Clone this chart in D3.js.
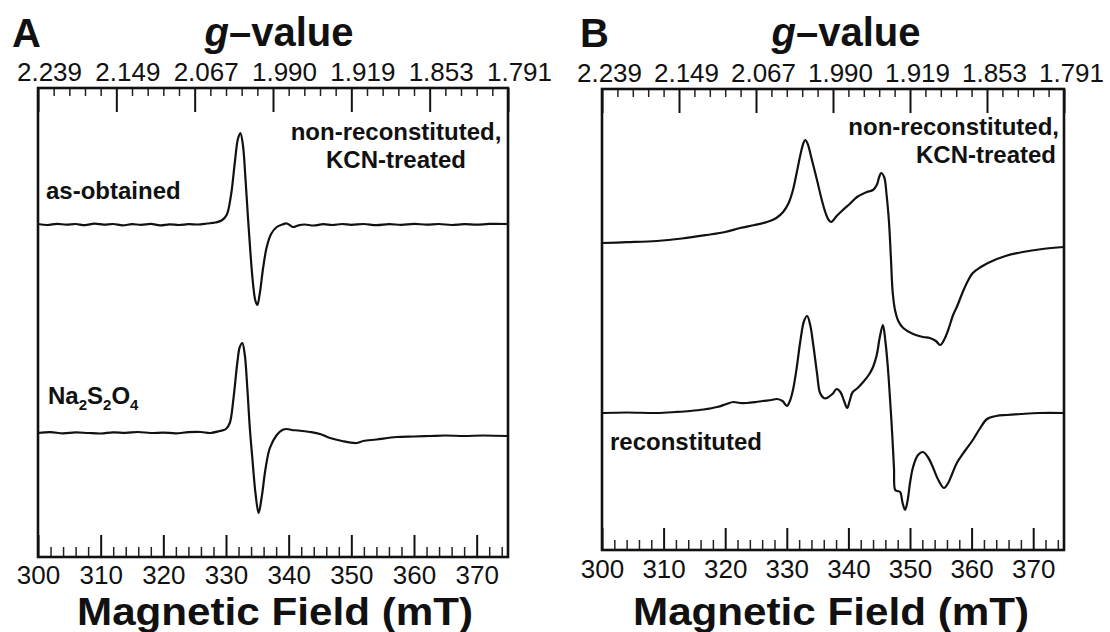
<!DOCTYPE html>
<html>
<head>
<meta charset="utf-8">
<script src="https://cdn.jsdelivr.net/npm/d3@7"></script>
<style>
  html, body { margin: 0; padding: 0; background: #fff; }
  svg { display: block; font-family: "Liberation Sans", Arial, Helvetica, sans-serif; }
</style>
</head>
<body>
<svg id="chart" width="1110" height="632"></svg>
<script>
// ---------------- data ----------------
const fieldDomain = [300, 375];                       // mT
const fieldTicks = [300, 310, 320, 330, 340, 350, 360, 370];
const fieldMinorTicks = d3.range(300, 375, 2).filter(v => v % 10 !== 0);
const gTickFields = [300, 312.5, 325, 337.5, 350, 362.5, 375];
const gTickLabels = ["2.239", "2.149", "2.067", "1.990", "1.919", "1.853", "1.791"];
const gMinorTicks = d3.range(300, 375, 2.5).filter(v => v % 12.5 !== 0);

// Panel A: as-obtained (field mT, derivative signal a.u.)
const asObtained = [
  [300,1],[301.5,0],[303,1.2],[304.5,0.3],[306,1],[307.5,-0.2],[309,1.4],[310.5,0.4],
  [312,1],[313.5,-0.3],[315,0.8],[316.5,0.2],[318,1.2],[319.5,-0.4],[321,0.6],[322.5,0],
  [324,0.8],[325.5,0.5],[327,1.5],[328.3,2.5],[329.3,4.5],[330.1,10],[330.8,30],[331.4,62],
  [331.9,86],[332.3,92],[332.7,80],[333.1,47],[333.5,8],[333.9,-28],[334.3,-58],[334.7,-76],
  [335.0,-80],[335.4,-68],[335.9,-44],[336.5,-22],[337.2,-9],[338.1,-2],[339.0,0.5],
  [339.7,1.5],[340.7,-2],[341.5,-0.5],[342.5,0.5],[344,-0.5],[345.5,0.8],[347,0],[348.5,1],
  [350,0.2],[352,1],[354,-0.2],[356,0.8],[358,0.2],[360,1.2],[362,0.3],[364,1],[366,0],
  [368,0.8],[370,0.3],[372,1.1],[375,1]
];
// Panel A: Na2S2O4-reduced
const dithionite = [
  [300,0],[302,0.8],[304,-0.3],[306,0.6],[308,0],[310,-0.5],[312,0.7],[314,0.2],[316,1],
  [318,0],[320,0.4],[322,-0.3],[324,0.8],[326,1],[327.5,0],[329,2],[330,4],[330.6,10],
  [331.2,35],[331.8,70],[332.2,86],[332.6,90],[333.0,78],[333.4,45],[333.8,5],[334.2,-25],
  [334.7,-60],[335.2,-80],[335.7,-64],[336.3,-36],[337.0,-15],[338.1,-2],[339.0,3],
  [339.7,4],[340.5,3],[341.5,2.5],[343.4,1],[345,-1],[346.6,-5],[348.5,-8],[350.8,-10],
  [351.9,-8],[354,-6.5],[357.2,-4],[360,-3.5],[362.5,-3],[365,-2.5],[368,-3],[371,-2.5],[375,-3]
];
// Panel B: non-reconstituted, KCN-treated
const kcnTreated = [
  [300,0],[304,0.8],[308.9,2],[313,4.5],[317,8],[320,11],[322.4,15],[324.8,18],[326.8,21],
  [328.3,25],[329.4,31],[330.3,40],[331.0,53],[331.6,70],[332.2,88],[332.7,100],[333.0,103],
  [333.4,99],[334.0,85],[334.9,63],[335.6,45],[336.3,30],[336.8,23],[337.2,21],[338.1,27],
  [339.1,33],[340.2,39],[341.4,46],[342.3,49],[343.0,51],[344.0,53],[344.6,58],[345.0,66],
  [345.3,70],[345.8,66],[346.2,48],[346.6,20],[346.9,-15],[347.2,-50],[347.6,-68],[348.1,-78],
  [348.9,-85],[350.5,-91],[352.1,-94],[353.2,-95],[354.2,-98],[354.9,-102],[355.6,-96],
  [356.2,-87],[357.0,-72],[357.6,-64],[358.5,-50],[359.3,-39],[360.2,-30],[361.5,-24],
  [363.0,-19],[365.5,-13],[368.3,-9],[371.5,-6],[375,-4]
];
// Panel B: reconstituted
const reconstituted = [
  [300,0],[304,0.5],[308.9,0],[312,1],[314.3,2],[316.5,3.5],[318.7,6],[320.2,9],[321.3,11],
  [322.4,10],[323.5,10],[325,11],[326.1,12],[327.5,13],[328.4,14],[329.3,12],[330.0,7],
  [330.5,12],[331.0,23],[331.6,45],[332.2,72],[332.8,92],[333.3,97],[333.8,88],[334.3,68],
  [334.9,40],[335.4,20],[336.0,15],[336.5,15],[337.4,19],[338.1,24],[338.7,21],[339.3,12],
  [339.8,5],[340.2,12],[340.7,21],[341.5,25],[342.4,31],[343.3,38],[344.0,46],[344.6,58],
  [345.1,76],[345.6,88],[346.0,72],[346.4,46],[346.8,10],[347.1,-20],[347.4,-55],[347.6,-77],
  [348.0,-78],[348.4,-79],[348.8,-90],[349.2,-97],[349.6,-88],[350.0,-70],[350.5,-54],
  [351.3,-42],[352.1,-39],[352.9,-44],[353.7,-54],[354.6,-67],[355.5,-75],[356.2,-70],
  [356.9,-60],[357.6,-50],[358.9,-38],[360.2,-27],[361.4,-15],[362.5,-6],[364,-3],
  [365.7,-2],[368,-1],[371,0],[375,0]
];
const panelALabels = ["as-obtained", "Na2S2O4"];
const panelBLabels = ["non-reconstituted, KCN-treated", "reconstituted"];
const traceOffsetsA = [97.5, -110.5];   // vertical stacking offsets (a.u.)
const traceOffsetsB = [76.5, -93.5];

// ---------------- drawing ----------------
const svg = d3.select("#chart");
const FONT = '"Liberation Sans", Arial, Helvetica, sans-serif';

const panels = [
  { letter: "A", x0: 38, x1: 508, y0: 88, y1: 557, gLabelDx: 11, traces: [asObtained, dithionite], offsets: traceOffsetsA, letterX: 12, gCenter: 279, titleCenter: 275, botLabelY: 27 },
  { letter: "B", x0: 602, x1: 1064, y0: 89, y1: 550, gLabelDx: 7, traces: [kcnTreated, reconstituted], offsets: traceOffsetsB, letterX: 580, gCenter: 846, titleCenter: 831, botLabelY: 28 }
];

panels.forEach((p, pi) => {
  const x = d3.scaleLinear().domain(fieldDomain).range([p.x0, p.x1]);
  const half = (p.y1 - p.y0) / 2;
  const y = d3.scaleLinear().domain([-half, half]).range([p.y1, p.y0]);
  const g = svg.append("g");

  // top g-value axis (ticks inside)
  const topMajor = d3.axisTop(x).tickValues(gTickFields)
    .tickSize(-24).tickPadding(8)
    .tickFormat((d, i) => gTickLabels[i]);
  const ta = g.append("g").attr("transform", `translate(0,${p.y0})`).call(topMajor);
  ta.select(".domain").remove();
  ta.selectAll("line").attr("stroke", "#111").attr("stroke-width", 2);
  ta.selectAll("text").attr("font-size", 26).attr("font-family", FONT).attr("fill", "#111")
    .attr("dx", p.gLabelDx).attr("y", -7);

  const topMinor = d3.axisTop(x).tickValues(gMinorTicks).tickSize(-8).tickFormat("");
  const tm = g.append("g").attr("transform", `translate(0,${p.y0})`).call(topMinor);
  tm.select(".domain").remove();
  tm.selectAll("line").attr("stroke", "#222").attr("stroke-width", 1.5);

  // bottom field axis (ticks inside)
  const botMajor = d3.axisBottom(x).tickValues(fieldTicks).tickSize(-22).tickPadding(8)
    .tickFormat(d3.format("d"));
  const ba = g.append("g").attr("transform", `translate(0,${p.y1})`).call(botMajor);
  ba.select(".domain").remove();
  ba.selectAll("line").attr("stroke", "#111").attr("stroke-width", 2);
  ba.selectAll("text").attr("font-size", 26).attr("font-family", FONT).attr("fill", "#111")
    .attr("dy", null).attr("y", p.botLabelY);

  const botMinor = d3.axisBottom(x).tickValues(fieldMinorTicks).tickSize(-10).tickFormat("");
  const bm = g.append("g").attr("transform", `translate(0,${p.y1})`).call(botMinor);
  bm.select(".domain").remove();
  bm.selectAll("line").attr("stroke", "#222").attr("stroke-width", 1.5);

  // frame
  g.append("rect").attr("x", p.x0).attr("y", p.y0)
    .attr("width", p.x1 - p.x0).attr("height", p.y1 - p.y0)
    .attr("fill", "none").attr("stroke", "#111").attr("stroke-width", 2.6);

  // traces
  const line = d3.line().x(d => x(d[0])).curve(d3.curveCatmullRom.alpha(0.5));
  p.traces.forEach((tr, ti) => {
    const off = p.offsets[ti];
    g.append("path").datum(tr)
      .attr("d", line.y(d => y(d[1] + off)))
      .attr("fill", "none").attr("stroke", "#111")
      .attr("stroke-width", 2.2).attr("stroke-linejoin", "round");
  });

  // panel letter
  g.append("text").attr("x", p.letterX).attr("y", 47).attr("font-size", 40)
    .attr("font-weight", "bold").attr("font-family", FONT).attr("fill", "#111").text(p.letter);

  // g-value title
  const gt = g.append("text").attr("x", p.gCenter).attr("y", 46).attr("text-anchor", "middle")
    .attr("font-size", 40).attr("font-weight", "bold").attr("font-family", FONT).attr("fill", "#111");
  gt.append("tspan").attr("font-style", "italic").text("g");
  gt.append("tspan").text("\u2013value");

  // x title
  g.append("text").attr("x", p.titleCenter).attr("y", 625).attr("text-anchor", "middle")
    .attr("font-size", 38).attr("font-weight", "bold").attr("font-family", FONT).attr("fill", "#111")
    .attr("textLength", 396).attr("lengthAdjust", "spacingAndGlyphs")
    .text("Magnetic Field (mT)");
});

// annotation labels
function label(xp, yp, txt, anchor) {
  return svg.append("text").attr("x", xp).attr("y", yp).attr("text-anchor", anchor || "start")
    .attr("font-size", 24).attr("font-weight", "bold").attr("font-family", FONT).attr("fill", "#111").text(txt);
}
// Panel A
label(396, 140, "non-reconstituted,", "middle");
label(396, 168, "KCN-treated", "middle");
label(46, 199, panelALabels[0]);
const na = svg.append("text").attr("x", 48).attr("y", 410)
  .attr("font-size", 24).attr("font-weight", "bold").attr("font-family", FONT).attr("fill", "#111");
const naParts = panelALabels[1].match(/[A-Za-z]+|\d/g);
naParts.forEach(s => {
  if (/\d/.test(s)) na.append("tspan").attr("font-size", 15).attr("dy", 6).text(s);
  else na.append("tspan").attr("dy", na.selectAll("tspan").size() ? -6 : 0).text(s);
});
// Panel B
const bLines = panelBLabels[0].split(" ");
label(1059, 135, bLines[0], "end");
label(1056, 163, bLines[1], "end");
label(610, 450, panelBLabels[1]);
</script>
</body>
</html>
